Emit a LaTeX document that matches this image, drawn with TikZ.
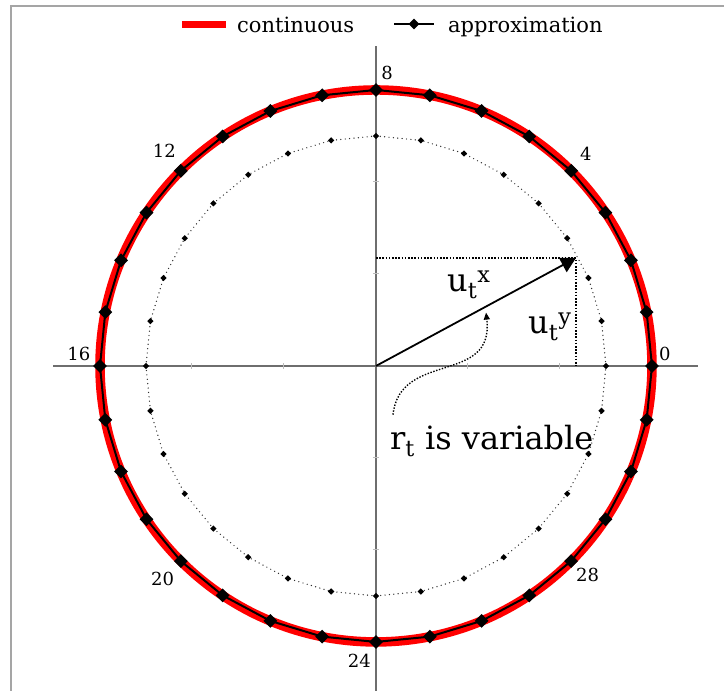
\documentclass[tikz,border=0pt]{standalone}
\usepackage{fontspec}
\setmainfont{DejaVu Serif}
\usetikzlibrary{shapes.geometric, arrows.meta, positioning}
\definecolor{ciRed}{HTML}{FF0000}
\definecolor{ciAxis}{HTML}{6E6E6E}
\definecolor{ciTick}{HTML}{BDBDBD}
\definecolor{ciFrame}{HTML}{A5A5A5}
\definecolor{ciDots}{HTML}{303030}
\tikzset{
  ciaxis/.style={ciAxis, line width=1.5pt},
  citick/.style={ciTick, line width=1pt},
  cicont/.style={ciRed, line width=9.5pt},
  ciapprox/.style={black, line width=2pt},
  cimark/.style={diamond, fill=black, inner sep=0pt, minimum width=14pt, minimum height=14pt},
  cimarksmall/.style={diamond, fill=black, inner sep=0pt, minimum width=6.5pt, minimum height=6.5pt},
  cidots/.style={ciDots, line width=1.4pt, dash pattern=on 0pt off 4.4pt, line cap=round},
  ciguide/.style={black, line width=1.6pt, dash pattern=on 1.6pt off 1.6pt},
  civec/.style={-{Triangle[length=15pt, width=16pt]}, black, line width=1.8pt},
  cicurve/.style={-{Triangle[length=7pt, width=6pt]}, black, line width=1.4pt, dash pattern=on 1.4pt off 1.6pt},
  cinum/.style={font=\fontsize{18}{21}\selectfont, inner sep=0pt},
  cibig/.style={font=\fontsize{32}{36}\selectfont, inner sep=0pt, anchor=base west},
  cileg/.style={font=\fontsize{21}{24}\selectfont, inner sep=0pt, anchor=base west}
}

\begin{document}
\begin{tikzpicture}[x=92pt, y=92pt]
    \useasboundingbox (-4.087,-3.533) rectangle (3.783,3.978);
    % frame
    \draw[ciFrame, line width=2pt] (-3.967,-3.6) -- (-3.967,3.913) -- (3.9,3.913);

    % axes and ticks
    \draw[ciaxis] (-3.51,0) -- (3.5,0);
    \draw[ciaxis] (0,-3.55) -- (0,3.48);
    \foreach \t in {-2,-1,1,2} {
        \draw[citick] (\t,-3pt) -- (\t,3pt);
        \draw[citick] (-3pt,\t) -- (3pt,\t);
      }

    % inner (variable radius) points
    \foreach \k in {0,...,31} {
        \coordinate (i\k) at (\k*11.25:2.5);
        \coordinate (o\k) at (\k*11.25:3);
      }
    \draw[cidots] (i0) \foreach \k in {1,...,31} { -- (i\k) } -- cycle;
    \foreach \k in {0,...,31} {
        \node[cimarksmall] (im\k) at (i\k) {};
      }

    % continuous circle and its approximation
    \draw[cicont] (0,0) circle (3);
    \draw[ciapprox] (o0) \foreach \k in {1,...,31} { -- (o\k) } -- cycle;
    \foreach \k in {0,...,31} {
        \node[cimark] (om\k) at (o\k) {};
      }
    \foreach \k/\px/\py in {0/3.14/0.13, 4/2.28/2.31, 8/0.12/3.18, 12/-2.30/2.34,
        16/-3.23/0.13, 20/-2.32/-2.31, 24/-0.18/-3.20, 28/2.30/-2.27} {
        \node[cinum] (n\k) at (\px,\py) {\k};
      }

    % vector u_t
    \coordinate (orig) at (0,0);
    \coordinate (tip) at (2.174,1.174);
    \coordinate (tipX) at (0,1.174);
    \coordinate (tipY) at (2.174,0);
    \draw[ciguide] (tipX) -- (tip) -- (tipY);
    \draw[civec] (orig) -- (tip);
    \node[cibig] (ux) at (0.772,0.804) {u\textsubscript{t}\textsuperscript{x}};
    \node[cibig] (uy) at (1.652,0.348) {u\textsubscript{t}\textsuperscript{y}};

    % radius note
    \node[cibig] (rt) at (0.152,-0.913) {r\textsubscript{t} is variable};
    \coordinate (rtStart) at (0.185,-0.53);
    \coordinate (rtEnd) at (1.196,0.58);
    \draw[cicurve] (rtStart) .. controls (0.26,0.17) and (1.29,-0.21) .. (rtEnd);

    % legend
    \coordinate (legA) at (-2.109,3.717);
    \coordinate (legB) at (-1.63,3.717);
    \coordinate (legC) at (0.196,3.717);
    \coordinate (legD) at (0.63,3.717);
    \draw[cicont, line width=7pt] (legA) -- (legB);
    \node[cileg] (legCont) at (-1.511,3.63) {continuous};
    \draw[ciapprox] (legC) -- (legD);
    \node[cimark, minimum width=11pt, minimum height=11pt] (legMark) at (0.413,3.717) {};
    \node[cileg] (legApprox) at (0.783,3.63) {approximation};
  \end{tikzpicture}
\end{document}
